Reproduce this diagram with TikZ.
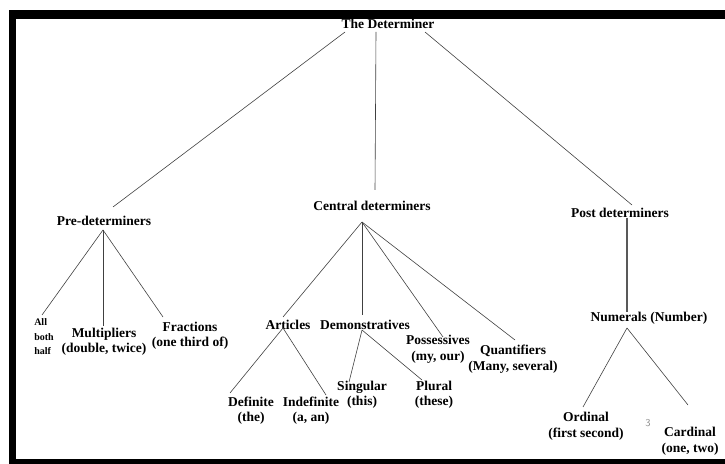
\documentclass[tikz,border=0pt]{standalone}
\usepackage{fontspec}
\setmainfont{Liberation Serif}
\usetikzlibrary{calc}
\tikzset{
    term/.style={font=\bfseries\fontsize{13.5bp}{15.5bp}\selectfont, align=center, inner sep=1bp},
    small term/.style={font=\bfseries\fontsize{10bp}{14.5bp}\selectfont, align=left, inner sep=1bp},
    branch/.style={draw=black!75, line width=0.6bp},
    trunk/.style={draw=black!65, line width=1.6bp}
}

\begin{document}
\begin{tikzpicture}[x=1bp, y=-1bp]
    \useasboundingbox (0,0) rectangle (725,464);
    % frame
    \fill (9,10) rectangle (725,19);
    \fill (9,10) rectangle (16,464);
    \fill (9,459) rectangle (725,464);
    % nodes
    \node[term] (root) at (388,24) {The Determiner};
    \node[term] (pre) at (104,221) {Pre-determiners};
    \node[term] (cen) at (372,206) {Central determiners};
    \node[term] (post) at (620,213) {Post determiners};
    \node[small term] (all) at (44,337) {All\\both\\half};
    \node[term] (mult) at (104,342) {Multipliers\\(double, twice)};
    \node[term] (frac) at (190,336) {Fractions\\(one third of)};
    \node[term] (art) at (288,325) {Articles};
    \node[term] (dem) at (365,325) {Demonstratives};
    \node[term] (poss) at (438,349.5) {Possessives\\(my, our)};
    \node[term] (quant) at (513,359) {Quantifiers\\(Many, several)};
    \node[term] (def) at (251,410.5) {Definite\\(the)};
    \node[term] (indef) at (311,410.5) {Indefinite\\(a, an)};
    \node[term] (sing) at (362,395) {Singular\\(this)};
    \node[term] (plur) at (434,395) {Plural\\(these)};
    \node[term] (num) at (649,318) {Numerals (Number)};
    \node[term] (ord) at (586,426.5) {Ordinal\\(first second)};
    \node[term] (card) at (690,441.5) {Cardinal\\(one, two)};
    \node[font=\sffamily\fontsize{10.5bp}{12bp}\selectfont, text=black!45] (pg) at (648,423) {3};
    % branches
    \draw[branch] ($(root)+(-43,8)$) -- ($(pre)+(9,-14)$);
    \draw[branch] ($(root)+(-12,8)$) -- ($(cen)+(3,-16)$);
    \draw[branch] ($(root)+(37,8)$) -- ($(post)+(12,-8)$);
    \draw[branch] ($(pre)+(-1,9)$) -- ($(all)+(-2,-22)$);
    \draw[branch] ($(pre)+(-1,9)$) -- ($(mult)+(-1,-16)$);
    \draw[branch] ($(pre)+(-1,9)$) -- ($(frac)+(-27,-19)$);
    \draw[branch] ($(cen)+(-10,16)$) -- ($(art)+(-5,-8)$);
    \draw[branch] ($(cen)+(-10,16)$) -- ($(dem)+(-3,-10)$);
    \draw[branch] ($(cen)+(-10,16)$) -- ($(poss)+(5,-12.5)$);
    \draw[branch] ($(cen)+(-10,16)$) -- ($(quant)+(2,-19)$);
    \draw[branch] ($(art)+(-5,3)$) -- ($(def)+(-21,-17.5)$);
    \draw[branch] ($(art)+(-5,3)$) -- ($(indef)+(15,-15.5)$);
    \draw[branch] ($(dem)+(-3,5)$) -- ($(sing)+(-13,-13)$);
    \draw[branch] ($(dem)+(-3,5)$) -- ($(plur)+(-12,-15)$);
    \draw[trunk] ($(post)+(7,5)$) -- ($(num)+(-22,-6)$);
    \draw[branch] ($(num)+(-22,10)$) -- ($(ord)+(-3,-19.5)$);
    \draw[branch] ($(num)+(-22,10)$) -- ($(card)+(-2,-36.5)$);
\end{tikzpicture}
\end{document}
